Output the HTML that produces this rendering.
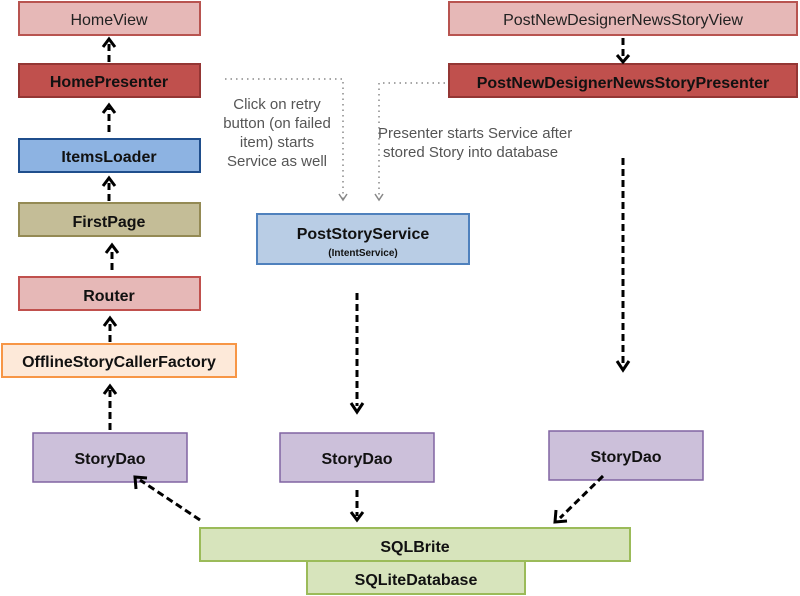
<!DOCTYPE html>
<html><head><meta charset="utf-8"><style>
html,body{margin:0;padding:0;background:#fff;}
svg{display:block;}
text{font-family:"Liberation Sans",sans-serif;}
.b{font-weight:bold;font-size:16px;fill:#111;}
.n{font-size:16px;fill:#222;}
.g{font-size:15px;fill:#555;}
.d{stroke:#000;stroke-width:3;stroke-dasharray:7,4;fill:none;}
.h{stroke:#000;stroke-width:3;fill:none;}
.dot{stroke:#888;stroke-width:1.5;stroke-dasharray:1.5,4;fill:none;}
</style></head><body>
<svg width="800" height="596" viewBox="0 0 800 596" xmlns="http://www.w3.org/2000/svg">
<rect x="19" y="2" width="181" height="33" fill="#e6b8b7" stroke="#b85450" stroke-width="2"/>
<text class="n" x="109" y="25" text-anchor="middle" font-size="17">HomeView</text>
<rect x="19" y="64" width="181" height="33" fill="#c0504d" stroke="#943634" stroke-width="2"/>
<text class="b" x="109" y="87" text-anchor="middle" font-size="17">HomePresenter</text>
<rect x="19" y="139" width="181" height="33" fill="#8db3e2" stroke="#1f4e8c" stroke-width="2"/>
<text class="b" x="109" y="162" text-anchor="middle" font-size="17">ItemsLoader</text>
<rect x="19" y="203" width="181" height="33" fill="#c4bd97" stroke="#948a54" stroke-width="2"/>
<text class="b" x="109" y="227" text-anchor="middle" font-size="17">FirstPage</text>
<rect x="19" y="277" width="181" height="33" fill="#e6b8b7" stroke="#c0504d" stroke-width="2"/>
<text class="b" x="109" y="301" text-anchor="middle" font-size="17">Router</text>
<rect x="2" y="344" width="234" height="33" fill="#fde9d9" stroke="#f79646" stroke-width="2"/>
<text class="b" x="119" y="367" text-anchor="middle" font-size="16">OfflineStoryCallerFactory</text>

<g>
<path class="d" d="M109 62 V42"/><path class="h" d="M103 47 L109 39 L115 47"/>
<path class="d" d="M109 132 V108"/><path class="h" d="M103 113 L109 105 L115 113"/>
<path class="d" d="M109 201 V181"/><path class="h" d="M103 186 L109 178 L115 186"/>
<path class="d" d="M112 270 V248"/><path class="h" d="M106 253 L112 245 L118 253"/>
<path class="d" d="M110 342 V321"/><path class="h" d="M104 326 L110 318 L116 326"/>
<path class="d" d="M110 430 V390"/><path class="h" d="M104 394 L110 386 L116 394"/>
</g>

<rect x="33" y="433" width="154" height="49" fill="#ccc0da" stroke="#8064a2" stroke-width="1.5"/>
<text class="b" x="110" y="464" text-anchor="middle" font-size="17">StoryDao</text>
<rect x="280" y="433" width="154" height="49" fill="#ccc0da" stroke="#8064a2" stroke-width="1.5"/>
<text class="b" x="357" y="464" text-anchor="middle" font-size="17">StoryDao</text>
<rect x="549" y="431" width="154" height="49" fill="#ccc0da" stroke="#8064a2" stroke-width="1.5"/>
<text class="b" x="626" y="462" text-anchor="middle" font-size="17">StoryDao</text>

<rect x="307" y="561" width="218" height="33" fill="#d7e4bc" stroke="#9bbb59" stroke-width="2"/>
<text class="b" x="416" y="585" text-anchor="middle" font-size="17">SQLiteDatabase</text>
<rect x="200" y="528" width="430" height="33" fill="#d7e4bc" stroke="#9bbb59" stroke-width="2"/>
<text class="b" x="415" y="552" text-anchor="middle" font-size="17">SQLBrite</text>

<rect x="257" y="214" width="212" height="50" fill="#b9cde5" stroke="#4f81bd" stroke-width="2"/>
<text class="b" x="363" y="239" text-anchor="middle" font-size="17">PostStoryService</text>
<text x="363" y="256" text-anchor="middle" font-size="10" font-weight="bold" fill="#111">(IntentService)</text>

<rect x="449" y="2" width="348" height="33" fill="#e6b8b7" stroke="#b85450" stroke-width="2"/>
<text class="n" x="623" y="25" text-anchor="middle" font-size="17">PostNewDesignerNewsStoryView</text>
<rect x="449" y="64" width="348" height="33" fill="#c0504d" stroke="#943634" stroke-width="2"/>
<text class="b" x="623" y="88" text-anchor="middle" font-size="17">PostNewDesignerNewsStoryPresenter</text>
<path class="d" d="M623 38 V56"/><path class="h" d="M617 55 L623 62 L629 55"/>

<path class="dot" d="M225 79 H343 V200"/><path d="M339 194 L343 200 L347 194" stroke="#888" stroke-width="1.5" fill="none"/>
<path class="dot" d="M445 83 H379 V200"/><path d="M375 194 L379 200 L383 194" stroke="#888" stroke-width="1.5" fill="none"/>
<text class="g" x="277" y="109" text-anchor="middle">Click on retry</text>
<text class="g" x="277" y="128" text-anchor="middle">button (on failed</text>
<text class="g" x="277" y="147" text-anchor="middle">item) starts</text>
<text class="g" x="277" y="166" text-anchor="middle">Service as well</text>
<text class="g" x="378" y="138">Presenter starts Service after</text>
<text class="g" x="383" y="157">stored Story into database</text>

<path class="d" d="M357 293 V406"/><path class="h" d="M351 403 L357 412 L363 403"/>
<path class="d" d="M623 158 V364"/><path class="h" d="M617 361 L623 370 L629 361"/>
<path class="d" d="M357 490 V516"/><path class="h" d="M351 512 L357 520 L363 512"/>
<path class="d" d="M200 520 L140 480"/><path class="h" d="M136 489 L135 477 L147 478"/>
<path class="d" d="M603 476 L560 518"/><path class="h" d="M556 510 L555 522 L567 521"/>
</svg>
</body></html>
